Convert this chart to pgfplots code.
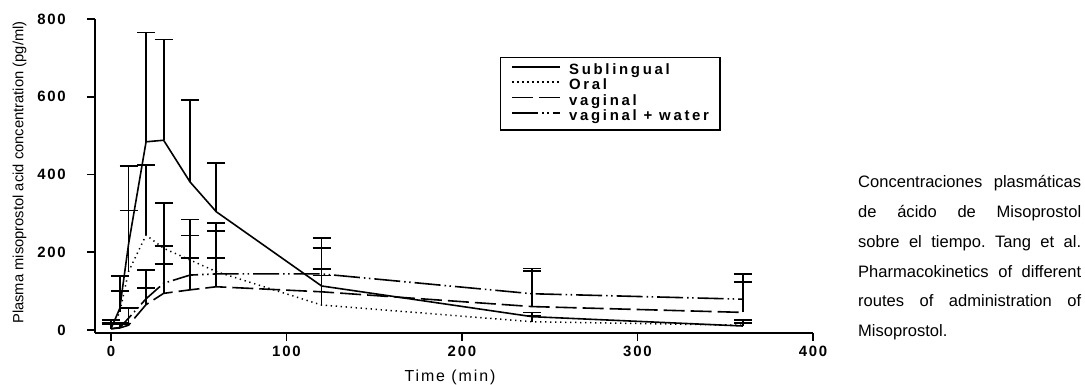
\documentclass[border=0pt]{standalone}
\usepackage{fontspec}
\setmainfont{Liberation Sans}
\newfontfamily\tickfont[LetterSpace=12]{Liberation Sans}
\newfontfamily\spacedfont[LetterSpace=18]{Liberation Sans}
\newfontfamily\labelfont[LetterSpace=12]{Liberation Sans}
\usepackage{pgfplots}
\pgfplotsset{compat=1.18}
\usepackage{pgfplotstable}
\frenchspacing

\pgfplotstableread{
t v e
0 3 22
5 55 84
10 220 202
20 484 281
30 488 259
45 381 210
60 304 125
120 113 124
240 34 11
360 10 16
}\sublingual
\pgfplotstableread{
t v e
0 3 15
5 45 56
10 150 157
20 244 181
30 210 117
45 180 104
60 150 126
120 64 76
240 21 16
360 12 5
}\oral
\pgfplotstableread{
t v e
0 3 12
5 5 10
10 12 45
20 65 42
30 94 75
45 103 83
60 111 75
120 98 58
240 60 92
360 45 78
}\vaginal
\pgfplotstableread{
t v e
0 3 15
5 6 12
10 30 27
20 80 74
30 120 96
45 141 102
60 144 110
120 144 66
240 93 65
360 79 65
}\vagwater

\begin{document}
\begin{tikzpicture}
\useasboundingbox (-95bp,-52bp) rectangle (990bp,333bp);
\begin{axis}[
  at={(0,0)}, anchor=south west,
  scale only axis, width=718bp, height=314bp,
  xmin=-9.1, xmax=400, ymin=-8, ymax=800,
  axis x line=bottom, axis y line=left,
  axis line style={line width=1.8bp, -},
  xtick={0,100,200,300,400}, ytick={0,200,400,600,800},
  tick align=outside, major tick length=8bp,
  tick style={line width=1.6bp, black},
  /pgf/number format/assume math mode=true,
  ticklabel style={font=\tickfont\bfseries\fontsize{15}{15}\selectfont, inner sep=0pt},
  yticklabel style={anchor=east},
  xticklabel style={anchor=north},
  yticklabel shift=21bp,
  xticklabel shift=5bp,
  xlabel={Time (min)},
  ylabel={Plasma misoprostol acid concentration (pg/ml)},
  every axis x label/.style={at={(axis description cs:0.4944,-0.1545)}, anchor=base, font=\labelfont\fontsize{16}{16}\selectfont},
  every axis y label/.style={at={(axis description cs:-0.1052,0.511)}, anchor=center, rotate=90, font=\fontsize{14.8}{14.8}\selectfont},
  legend style={at={(axis description cs:0.564,0.879)}, anchor=north west,
    draw=black, line width=1.2bp, inner xsep=11bp, inner ysep=6.5bp,
    font=\spacedfont\bfseries\fontsize{15}{15}\selectfont,
    nodes={inner sep=0pt, text height=10.5bp, text depth=3bp}, row sep=1.8bp},
  legend cell align=left,
  legend image code/.code={\draw[#1] (0bp,4bp) -- (48bp,4bp); \path (56bp,4bp);},
  error bars/error bar style={solid, line width=1.8bp},
  error bars/error mark options={solid, rotate=90, line width=1.8bp, mark size=9bp},
]
\addplot[black, line width=1.6bp, solid,
  error bars/.cd, y dir=plus, y explicit]
  table[x=t, y=v, y error=e] {\sublingual};
\addlegendentry{Sublingual}
\addplot[black, line width=1.5bp, dash pattern=on 1.3bp off 3.7bp,
  error bars/.cd, y dir=plus, y explicit]
  table[x=t, y=v, y error=e] {\oral};
\addlegendentry{Oral}
\addplot[black, line width=1.6bp, dash pattern=on 21bp off 6bp,
  error bars/.cd, y dir=plus, y explicit]
  table[x=t, y=v, y error=e] {\vaginal};
\addlegendentry{vaginal}
\addplot[black, line width=1.6bp, dash pattern=on 26bp off 4bp on 1.5bp off 3.5bp on 1.5bp off 4bp,
  error bars/.cd, y dir=plus, y explicit]
  table[x=t, y=v, y error=e] {\vagwater};
\addlegendentry{vaginal + water}
\end{axis}
\begin{scope}[every node/.style={inner sep=0pt, anchor=base west, font=\fontsize{16.6}{16.6}\selectfont}]
\node at (763bp,145bp) {\makebox[223bp][s]{Concentraciones plasmáticas}};
\node at (763bp,115.3bp) {\makebox[223bp][s]{de ácido de Misoprostol}};
\node at (763bp,85.6bp) {\makebox[223bp][s]{sobre el tiempo. Tang et al.}};
\node at (763bp,55.9bp) {\makebox[223bp][s]{Pharmacokinetics of different}};
\node at (763bp,26.2bp) {\makebox[223bp][s]{routes of administration of}};
\node at (763bp,-3.5bp) {Misoprostol.};
\end{scope}
\end{tikzpicture}
\end{document}
